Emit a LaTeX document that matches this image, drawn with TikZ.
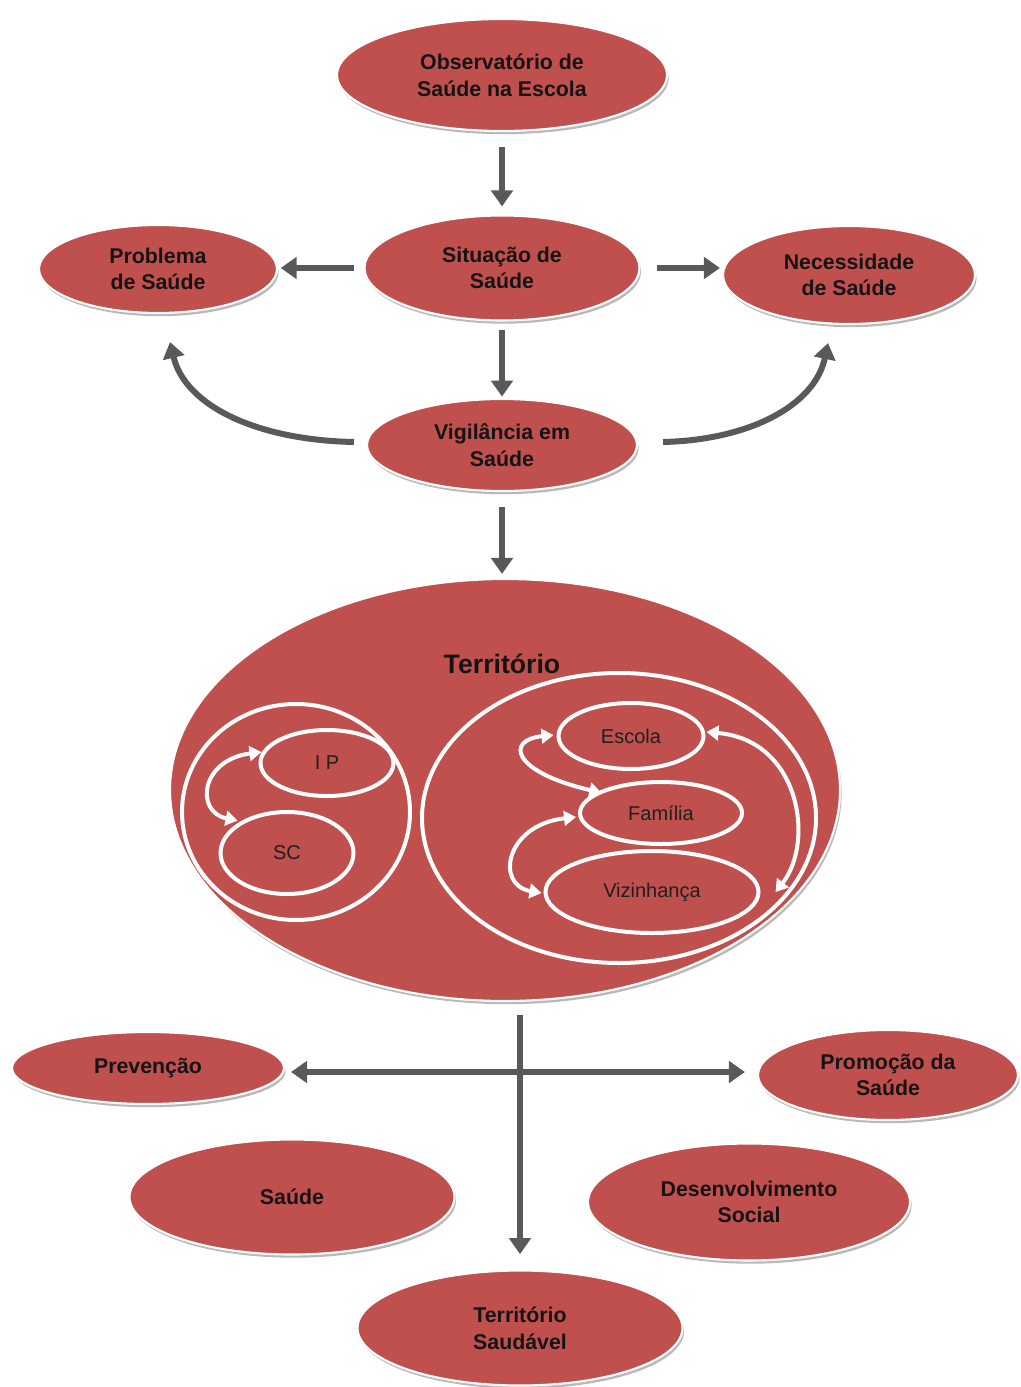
\documentclass[tikz,border=0pt]{standalone}
\usepackage{fontspec}
\setmainfont{Liberation Sans}
\usetikzlibrary{shapes.geometric,arrows.meta,shadows,calc}
\definecolor{bubred}{HTML}{C0504D}
\definecolor{arrgray}{HTML}{595959}
\begin{document}
\begin{tikzpicture}[x=0.75pt,y=-0.75pt,
  bub/.style 2 args={ellipse, minimum width=#1*0.75pt, minimum height=#2*0.75pt,
    inner sep=0pt, fill=bubred, draw=white, line width=1.6pt,
    drop shadow={shadow xshift=1.2pt, shadow yshift=-2.4pt, fill=black!28, opacity=1},
    font=\fontsize{16}{20}\selectfont\bfseries, text=black!92, align=center},
  ring/.style 2 args={ellipse, minimum width=#1*0.75pt, minimum height=#2*0.75pt,
    inner sep=0pt, draw=white, line width=3pt,
    font=\fontsize{15}{18}\selectfont, text=black!88},
  garrow/.style={draw=arrgray, line width=4.5pt, -{Triangle[length=12pt,width=16pt]}},
  gdarrow/.style={draw=arrgray, line width=4.5pt, {Triangle[length=12pt,width=16pt]}-{Triangle[length=12pt,width=16pt]}},
  warrow/.style={draw=white, line width=3pt, {Triangle[length=9pt,width=11pt]}-{Triangle[length=9pt,width=11pt]}}
]
\useasboundingbox (0,0) rectangle (1020,1387);

% top nodes
\node[bub={330}{112}] (obs) at (502,75) {Observatório de\\Saúde na Escola};
\node[bub={275}{105}] (sit) at (502,268) {Situação de\\Saúde};
\node[bub={238}{88}] (prob) at (158,269) {Problema\\de Saúde};
\node[bub={252}{98}] (nec) at (849,275) {Necessidade\\de Saúde};
\node[bub={270}{92}] (vig) at (502,445) {Vigilância em\\Saúde};

% territory
\node[bub={670}{422}] (terr) at (505,790) {};
\node[font=\fontsize{20}{24}\selectfont\bfseries, text=black!92] (terrlbl) at (502,664) {Território};

\node[ring={228}{216}] (lg) at (296,812) {};
\node[ring={133}{66}] (ip) at (327,763) {I P};
\node[ring={133}{82}] (sc) at (287,853) {SC};
\node[ring={394}{290}] (rg) at (619,818) {};
\node[ring={145}{66}] (esc) at (631,736) {Escola};
\node[ring={162}{62}] (fam) at (661,813) {Família};
\node[ring={213}{82}] (viz) at (652,892) {Vizinhança};

% white arrows
\draw[warrow] ($(ip.west)+(3,-11)$) .. controls (200,760) and (195,812) .. ($(sc.north west)+(-1,-2)$);
\draw[warrow] ($(esc.west)+(-3,-1)$) .. controls (505,740) and (512,772) .. ($(fam.north west)+(-1,3)$);
\draw[warrow] ($(fam.west)+(-2,4)$) .. controls (505,825) and (495,885) .. ($(viz.west)+(-2,1)$);
\draw[warrow] ($(esc.east)+(1,-4)$) .. controls (800,740) and (815,842) .. ($(viz.east)+(15,0)$);

% bottom nodes
\node[bub={272}{72}] (prev) at (148,1068) {Prevenção};
\node[bub={260}{90}] (prom) at (888,1075) {Promoção da\\Saúde};
\node[bub={325}{115}] (sau) at (292,1197) {Saúde};
\node[bub={322}{117}] (des) at (749,1202) {Desenvolvimento\\Social};
\node[bub={325}{115}] (ts) at (520,1328) {Território\\Saudável};

% gray arrows
\draw[garrow, shorten <=11pt, shorten >=6pt] (obs) -- (sit);
\draw[garrow, shorten <=7pt, shorten >=2pt] (sit.west) -- (sit.west -| prob.east);
\draw[garrow, shorten <=12pt, shorten >=1.5pt] (sit.east) -- (sit.east -| nec.west);
\draw[garrow, shorten <=6pt, shorten >=1pt] (sit) -- (vig);
\draw[garrow, shorten <=11pt, shorten >=3pt] (vig) -- (vig |- terr.north);
\draw[garrow] ($(vig.west)+(-12,-3)$) .. controls (255,440) and (185,405) .. ($(prob.south)+(12,28)$);
\draw[garrow] ($(vig.east)+(25,-3)$) .. controls (750,440) and (815,405) .. ($(nec.south)+(-21,18)$);
\draw[gdarrow] ($(prev.east)+(6,4)$) -- ($(prom.west)+(-12,-3)$);
\draw[garrow, shorten <=10pt, shorten >=11.5pt] (terr.south -| ts.north) -- (ts.north);
\end{tikzpicture}
\end{document}
